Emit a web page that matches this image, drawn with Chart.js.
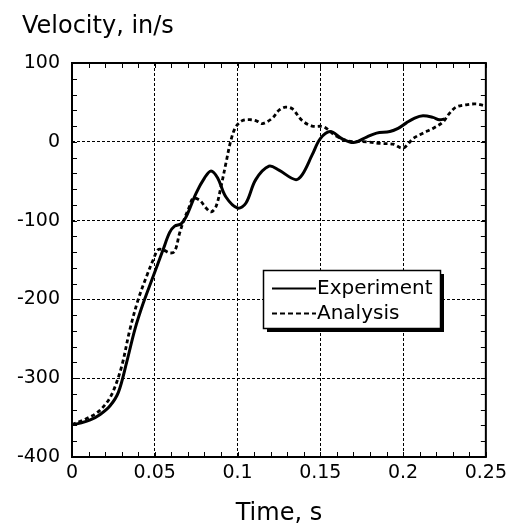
<!DOCTYPE html>
<html>
<head>
<meta charset="utf-8">
<script src="https://cdn.jsdelivr.net/npm/chart.js@4/dist/chart.umd.min.js"></script>
<style>
  html, body { margin: 0; padding: 0; background: #fff; }
  #wrap { width: 512px; height: 525px; }
</style>
</head>
<body>
<div id="wrap"><canvas id="c" width="512" height="525"></canvas></div>
<script>
// ---- data ----
const expTime = [0, 0.005, 0.011, 0.017, 0.023, 0.028, 0.033, 0.038, 0.043, 0.049, 0.055, 0.059, 0.062, 0.066, 0.069, 0.075, 0.080, 0.084, 0.088, 0.093, 0.100, 0.105, 0.111, 0.119, 0.125, 0.135, 0.139, 0.145, 0.150, 0.156, 0.163, 0.170, 0.178, 0.184, 0.192, 0.197, 0.202, 0.207, 0.212, 0.218, 0.222, 0.225];
const expVel  = [-359, -357, -353, -346, -335, -318, -280, -238, -205, -171, -137, -115, -107, -104, -95, -65, -46, -37, -46, -70, -84, -78, -48, -31, -36, -48, -42, -17, 4, 13, 4, -1, 6, 11, 13, 17, 24, 30, 33, 31, 28, 29];

const anaTime = [0, 0.008, 0.015, 0.021, 0.025, 0.030, 0.035, 0.040, 0.045, 0.049, 0.052, 0.055, 0.059, 0.062, 0.065, 0.068, 0.071, 0.073, 0.077, 0.081, 0.084, 0.087, 0.090, 0.093, 0.096, 0.099, 0.103, 0.108, 0.112, 0.115, 0.121, 0.125, 0.129, 0.133, 0.139, 0.145, 0.152, 0.159, 0.167, 0.178, 0.186, 0.194, 0.200, 0.206, 0.212, 0.218, 0.224, 0.228, 0.232, 0.238, 0.244, 0.249];
const anaVel  = [-359, -352, -344, -331, -316, -285, -238, -200, -171, -150, -137, -137, -141, -139, -116, -97, -82, -72, -74, -84, -89, -82, -57, -27, 2, 19, 27, 28, 26, 23, 30, 40, 44, 42, 27, 20, 19, 8, 1, 0, -2, -3, -8, 4, 11, 17, 25, 36, 44, 47, 48, 46];

const seriesNames = ['Experiment', 'Analysis'];
const xTickValues = [0, 0.05, 0.1, 0.15, 0.2, 0.25];
const xTickLabels = ['0', '0.05', '0.1', '0.15', '0.2', '0.25'];
const yTickValues = [100, 0, -100, -200, -300, -400];
const yTickLabels = ['100', '0', '-100', '-200', '-300', '-400'];
const xAxisTitle = 'Time, s';
const yAxisTitle = 'Velocity, in/s';

const FONT = "'DejaVu Sans', 'Liberation Sans', Arial, sans-serif";

const toPts = (xs, ys) => xs.map((x, i) => ({ x: x, y: ys[i] }));

// y-axis title drawn horizontally above the plot, as in the reference
const yTitlePlugin = {
  id: 'yTitle',
  afterDraw(chart) {
    const { ctx } = chart;
    ctx.save();
    ctx.font = '24px ' + FONT;
    ctx.fillStyle = '#000';
    ctx.textAlign = 'left';
    ctx.textBaseline = 'alphabetic';
    ctx.fillText(yAxisTitle, 22, 33);
    ctx.restore();
  }
};

// frame, inward ticks (major + minor)
const framePlugin = {
  id: 'frame',
  afterDatasetsDraw(chart) {
    const { ctx, chartArea: a, scales: { x, y } } = chart;
    ctx.save();
    ctx.strokeStyle = '#000';
    ctx.lineWidth = 1;
    ctx.beginPath();
    const tl = 5;
    for (let i = 0; i <= 25; i++) {
      const px = Math.round(x.getPixelForValue(i * 0.01)) + 0.5;
      ctx.moveTo(px, a.bottom); ctx.lineTo(px, a.bottom - tl);
      ctx.moveTo(px, a.top); ctx.lineTo(px, a.top + tl);
    }
    for (let v = -400; v <= 100; v += 20) {
      const py = Math.round(y.getPixelForValue(v)) + 0.5;
      ctx.moveTo(a.left, py); ctx.lineTo(a.left + tl, py);
      ctx.moveTo(a.right, py); ctx.lineTo(a.right - tl, py);
    }
    ctx.stroke();
    ctx.lineWidth = 2;
    ctx.strokeRect(a.left, a.top, a.right - a.left, a.bottom - a.top);
    ctx.restore();
  }
};

// boxed legend with drop shadow
const legendPlugin = {
  id: 'boxLegend',
  afterDraw(chart) {
    const { ctx } = chart;
    const L = 263.5, T = 270.5, R = 440.5, B = 328.5, sh = 3.5;
    ctx.save();
    ctx.fillStyle = '#000';
    ctx.fillRect(L + sh, T + sh, R - L, B - T);
    ctx.fillStyle = '#fff';
    ctx.fillRect(L, T, R - L, B - T);
    ctx.strokeStyle = '#000';
    ctx.lineWidth = 1.5;
    ctx.strokeRect(L, T, R - L, B - T);
    const ds = chart.data.datasets;
    const rows = [288.5, 313.5];
    const dashes = [[], [5, 3]];
    ctx.font = '20px ' + FONT;
    ctx.textBaseline = 'middle';
    ctx.textAlign = 'left';
    ds.forEach((d, i) => {
      ctx.beginPath();
      ctx.lineWidth = 2;
      ctx.setLineDash(dashes[i]);
      ctx.moveTo(272, rows[i]);
      ctx.lineTo(316, rows[i]);
      ctx.stroke();
      ctx.setLineDash([]);
      ctx.fillStyle = '#000';
      ctx.fillText(d.label, 317, rows[i] + 0.5);
    });
    ctx.restore();
  }
};

new Chart(document.getElementById('c'), {
  type: 'line',
  data: {
    datasets: [
      {
        label: seriesNames[0],
        data: toPts(expTime, expVel),
        borderColor: '#000',
        borderWidth: 3,
        pointRadius: 0,
        tension: 0.35,
        fill: false
      },
      {
        label: seriesNames[1],
        data: toPts(anaTime, anaVel),
        borderColor: '#000',
        borderWidth: 2.8,
        borderDash: [4, 3],
        pointRadius: 0,
        tension: 0.35,
        fill: false
      }
    ]
  },
  options: {
    responsive: false,
    animation: false,
    devicePixelRatio: 1,
    layout: { padding: { left: 0, right: 25, top: 63, bottom: 0 } },
    plugins: {
      legend: { display: false },
      tooltip: { enabled: false },
      title: { display: false }
    },
    scales: {
      x: {
        type: 'linear',
        min: 0,
        max: 0.25,
        afterBuildTicks(s) { s.ticks = xTickValues.map(v => ({ value: v })); },
        afterFit(s) { s.height = 68; },
        ticks: {
          color: '#000',
          font: { family: FONT, size: 19 },
          padding: 5,
          maxRotation: 0,
          autoSkip: false,
          callback: (v) => {
            const i = xTickValues.findIndex(t => Math.abs(t - v) < 1e-9);
            return i >= 0 ? xTickLabels[i] : '';
          }
        },
        grid: { color: '#000', lineWidth: 1, drawTicks: false },
        border: { display: false, dash: [3, 2] },
        title: {
          display: true,
          text: xAxisTitle,
          color: '#000',
          font: { family: FONT, size: 24 },
          padding: { top: 0, bottom: -3 }
        }
      },
      y: {
        type: 'linear',
        min: -400,
        max: 100,
        afterBuildTicks(s) { s.ticks = yTickValues.map(v => ({ value: v })); },
        afterFit(s) { s.width = 72; },
        ticks: {
          color: '#000',
          font: { family: FONT, size: 19 },
          padding: 12,
          autoSkip: false,
          callback: (v) => {
            const i = yTickValues.indexOf(v);
            return i >= 0 ? yTickLabels[i] : '';
          }
        },
        grid: { color: '#000', lineWidth: 1, drawTicks: false },
        border: { display: false, dash: [3, 2] }
      }
    }
  },
  plugins: [framePlugin, legendPlugin, yTitlePlugin]
});
</script>
</body>
</html>
